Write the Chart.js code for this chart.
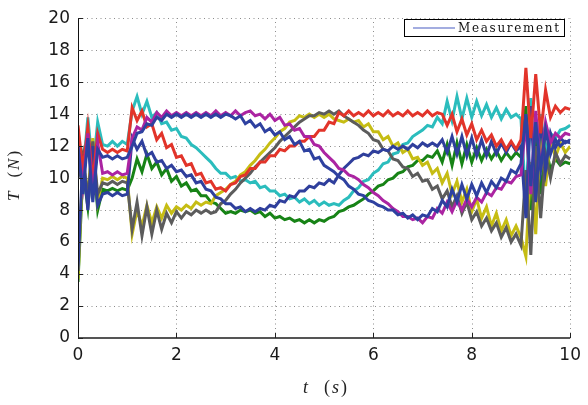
<!DOCTYPE html>
<html>
<head>
<meta charset="utf-8">
<script src="https://cdn.jsdelivr.net/npm/chart.js@4.4.1/dist/chart.umd.min.js"></script>
<style>
  html, body { margin: 0; padding: 0; background: #fff; }
  #wrap { width: 588px; height: 405px; position: relative; }
</style>
</head>
<body>
<div id="wrap"><canvas id="chart" width="588" height="405"></canvas></div>
<script>
// sample step of the traces (s)
const dt = 0.1;

// tension T (N), one value every 0.1 s from t = 0 to t = 10
const redT = [
  13.3, 10.5, 13.2, 9.8, 12.8, 11.8, 11.6, 11.8, 11.6, 11.8,
  11.7, 14.4, 13.6, 14.2, 13.2, 13.4, 12.4, 12.8, 11.9, 12.1,
  11.3, 11.4, 10.8, 10.9, 10.2, 10.3, 9.7, 9.8, 9.3, 9.4,
  9.2, 9.6, 9.7, 10.1, 10.2, 10.6, 10.6, 11.0, 11.0, 11.4,
  11.4, 11.8, 11.7, 12.0, 12.0, 12.3, 12.3, 12.6, 12.6, 13.0,
  13.0, 13.5, 13.4, 14.1, 13.9, 14.2, 13.9, 14.1, 13.9, 14.2,
  13.9, 14.1, 13.9, 14.2, 13.9, 14.1, 13.9, 14.2, 13.9, 14.1,
  13.9, 14.2, 13.9, 14.1, 14.0, 13.3, 14.0, 12.9, 13.7, 12.7,
  13.4, 12.4, 13.0, 12.3, 12.7, 12.0, 12.4, 11.8, 12.3, 11.8,
  12.4, 16.9, 12.5, 16.5, 12.8, 15.5, 13.8, 14.5, 14.1, 14.4,
  14.3
];
const cyanT = [
  13.0, 10.2, 13.8, 10.5, 13.5, 12.1, 12.0, 12.3, 12.0, 12.3,
  12.1, 14.2, 15.1, 14.0, 14.8, 13.8, 14.1, 13.4, 13.5, 13.0,
  13.1, 12.6, 12.5, 12.1, 11.9, 11.6, 11.3, 11.0, 10.6, 10.3,
  10.3, 10.0, 10.1, 9.8, 9.9, 9.7, 9.8, 9.4, 9.5, 9.2,
  9.2, 8.9, 9.0, 8.7, 8.8, 8.5, 8.7, 8.4, 8.6, 8.3,
  8.5, 8.3, 8.4, 8.3, 8.6, 8.8, 9.2, 9.4, 9.8, 9.9,
  10.3, 10.5, 10.9, 11.0, 11.5, 11.6, 12.1, 12.2, 12.6, 12.8,
  13.0, 13.3, 13.2, 13.8, 13.4, 14.8, 13.6, 15.1, 13.7, 15.0,
  13.8, 14.8, 13.9, 14.6, 13.8, 14.4, 13.7, 14.3, 13.8, 14.0,
  13.7, 8.5, 15.0, 9.5, 14.0, 11.5, 12.8, 12.5, 13.0, 13.1,
  13.3
];
const blueAT = [
  12.0, 9.0, 12.5, 8.5, 11.8, 11.3, 11.4, 11.2, 11.4, 11.2,
  11.3, 12.0, 12.8, 12.9, 13.4, 13.3, 13.8, 13.6, 14.0, 13.8,
  14.0, 13.8, 14.0, 13.8, 14.0, 13.8, 14.0, 13.8, 14.0, 13.8,
  14.0, 13.9, 13.7, 13.9, 13.4, 13.6, 13.2, 13.4, 12.9, 13.1,
  12.7, 12.9, 12.4, 12.6, 12.1, 12.3, 11.7, 11.8, 11.2, 11.3,
  10.8, 10.6, 10.4, 10.1, 9.9, 9.5, 9.3, 9.0, 8.9, 8.6,
  8.5, 8.3, 8.2, 8.0, 8.0, 7.7, 7.8, 7.5, 7.7, 7.4,
  7.7, 7.6, 8.1, 7.9, 8.6, 8.2, 9.3, 8.5, 9.6, 8.7,
  9.6, 8.9, 9.7, 9.1, 9.8, 9.4, 10.0, 9.8, 10.5, 10.3,
  10.9, 14.0, 9.5, 13.5, 10.5, 13.0, 11.5, 12.4, 12.0, 12.3,
  12.2
];
const blueBT = [
  4.2, 11.5, 8.0, 12.0, 8.3, 9.0, 9.1, 8.9, 9.1, 8.9,
  9.0, 12.5, 11.8, 12.3, 11.4, 11.6, 11.0, 11.1, 10.6, 10.8,
  10.4, 10.5, 10.1, 10.2, 9.7, 9.8, 9.3, 9.2, 8.8, 8.7,
  8.4, 8.4, 8.1, 8.2, 7.9, 8.1, 7.9, 8.1, 8.0, 8.3,
  8.2, 8.6, 8.5, 8.9, 8.8, 9.2, 9.2, 9.5, 9.4, 9.7,
  9.6, 9.9, 9.7, 10.2, 10.6, 10.9, 11.2, 11.3, 11.5, 11.4,
  11.7, 11.6, 11.8, 11.7, 12.0, 11.8, 12.0, 11.8, 12.1, 11.9,
  12.2, 12.0, 12.2, 12.0, 12.4, 11.6, 12.6, 11.5, 12.6, 11.4,
  12.5, 11.4, 12.4, 11.4, 12.3, 11.5, 12.2, 11.6, 12.2, 11.7,
  12.0, 7.5, 14.5, 8.5, 13.8, 10.5, 12.8, 11.9, 12.5, 12.2,
  12.4
];
const magentaT = [
  12.0, 9.5, 12.8, 9.0, 12.2, 10.3, 10.4, 10.2, 10.4, 10.2,
  10.3, 12.5, 13.2, 13.0, 13.8, 13.5, 14.1, 13.8, 14.2, 13.9,
  14.1, 13.9, 14.1, 13.9, 14.1, 13.9, 14.1, 13.9, 14.2, 13.9,
  14.1, 13.9, 14.2, 13.9, 14.1, 14.2, 13.9, 14.0, 13.7, 14.0,
  13.6, 13.8, 13.3, 13.4, 13.0, 13.1, 12.6, 12.6, 12.1, 12.0,
  11.6, 11.3, 11.0, 10.6, 10.5, 10.2, 10.1, 9.9, 9.6, 9.4,
  9.1, 8.9, 8.6, 8.4, 8.1, 7.9, 7.6, 7.6, 7.4, 7.5,
  7.2, 7.6, 7.5, 8.1, 7.8, 8.5, 7.9, 8.6, 8.0, 8.7,
  8.2, 8.8, 8.5, 9.1, 8.9, 9.4, 9.3, 9.8, 9.7, 10.1,
  10.2, 13.5, 9.0, 14.2, 10.5, 13.5, 12.2, 12.8, 12.5, 12.8,
  12.7
];
const grayT = [
  10.0, 11.5, 8.7, 12.3, 9.0, 9.7, 9.6, 9.8, 9.6, 9.8,
  9.7, 6.8, 8.5, 6.4, 8.2, 6.5, 8.0, 6.8, 7.8, 7.2,
  7.9, 7.5, 7.9, 7.7, 8.0, 7.8, 8.0, 7.8, 7.9, 8.4,
  8.6, 9.0, 9.3, 9.7, 10.0, 10.3, 10.7, 11.0, 11.3, 11.6,
  11.9, 12.3, 12.6, 12.9, 13.2, 13.5, 13.7, 13.9, 13.9, 14.1,
  14.0, 14.2, 14.0, 14.2, 13.9, 13.7, 13.5, 13.3, 13.0, 12.8,
  12.4, 12.3, 11.8, 11.7, 11.2, 11.1, 10.7, 10.6, 10.1, 10.3,
  9.8, 9.9, 9.3, 9.5, 8.7, 9.2, 8.2, 8.9, 7.8, 8.5,
  7.4, 7.9, 7.0, 7.5, 6.7, 7.2, 6.3, 6.9, 6.0, 6.5,
  5.8, 10.5, 5.2, 12.0, 7.5, 11.5, 10.0, 11.6, 10.9, 11.4,
  11.2
];
const yellowT = [
  3.7, 11.0, 9.0, 12.5, 8.5, 10.0, 9.9, 10.1, 9.9, 10.1,
  10.0, 6.5, 8.0, 7.0, 8.3, 7.2, 8.2, 7.5, 8.3, 7.8,
  8.2, 8.0, 8.3, 8.1, 8.5, 8.3, 8.5, 8.4, 8.9, 9.1,
  9.3, 9.6, 9.8, 10.2, 10.4, 10.8, 11.1, 11.5, 11.8, 12.2,
  12.5, 12.9, 13.1, 13.5, 13.6, 13.9, 13.8, 14.0, 13.8, 14.0,
  13.8, 14.0, 13.7, 13.6, 13.5, 13.7, 13.5, 13.6, 13.2, 13.4,
  12.9, 12.9, 12.4, 12.6, 12.0, 12.2, 11.6, 11.8, 11.2, 11.3,
  10.8, 11.0, 10.3, 10.6, 9.7, 10.3, 9.0, 9.8, 8.5, 9.3,
  7.9, 8.7, 7.5, 8.2, 7.0, 7.8, 6.7, 7.4, 6.4, 7.0,
  6.3, 5.1, 11.0, 6.5, 13.0, 9.5, 12.5, 11.3, 12.2, 11.6,
  12.0
];
const greenT = [
  3.5, 10.5, 8.2, 11.8, 8.0, 9.3, 9.2, 9.35, 9.2, 9.35,
  9.25, 10.0, 11.2, 10.4, 11.5, 10.6, 11.0, 10.2, 10.6, 9.8,
  10.1, 9.5, 9.7, 9.2, 9.3, 8.9, 8.9, 8.5, 8.4, 8.1,
  7.8, 7.9, 7.8, 8.0, 7.9, 8.0, 7.8, 7.9, 7.6, 7.8,
  7.5, 7.6, 7.4, 7.5, 7.3, 7.4, 7.2, 7.4, 7.2, 7.4,
  7.3, 7.5, 7.6, 7.9, 8.0, 8.2, 8.3, 8.5, 8.7, 9.0,
  9.2, 9.5, 9.6, 9.9, 10.0, 10.3, 10.4, 10.7, 10.8, 11.1,
  11.1, 11.4, 11.3, 11.7, 11.0, 12.1, 10.8, 12.2, 10.9, 12.1,
  11.0, 11.9, 11.1, 11.8, 11.2, 11.7, 11.1, 11.6, 11.2, 11.6,
  11.3, 14.5, 8.0, 13.0, 9.0, 12.0, 10.5, 11.2, 10.8, 11.0,
  10.9
];

const xTicks = [0, 2, 4, 6, 8, 10];
const yTicks = [0, 2, 4, 6, 8, 10, 12, 14, 16, 18, 20];
const legendText = 'Measurement';

// first dataset ends up on top
const series = [
  { data: blueAT, color: '#2e41a0' },
  { data: magentaT, color: '#ab24a2' },
  { data: redT, color: '#e2342a' },
  { data: blueBT, color: '#2f3f9c' },
  { data: grayT, color: '#5c5c5c' },
  { data: yellowT, color: '#c6bd14' },
  { data: cyanT, color: '#2bbdbd' },
  { data: greenT, color: '#178316' }
];

function toPoints(vals) {
  return vals.map((v, i) => ({ x: Math.round(i * dt * 10) / 10, y: v }));
}

// text pieces [text, italic, gapAfter], centred on 0,0 of the current transform
function drawMath(ctx, parts, size) {
  const fonts = parts.map(p => (p[1] ? 'italic ' : '') + size + 'px "Liberation Serif", serif');
  let w = 0;
  const widths = parts.map((p, i) => {
    ctx.font = fonts[i];
    const m = ctx.measureText(p[0]).width;
    w += m + (i < parts.length - 1 ? p[2] : 0);
    return m;
  });
  let x = -w / 2;
  parts.forEach((p, i) => {
    ctx.font = fonts[i];
    ctx.fillText(p[0], x, 0);
    x += widths[i] + p[2];
  });
}

const decor = {
  id: 'decor',
  beforeDatasetsDraw(chart) {
    const { ctx, chartArea: a, scales: { x, y } } = chart;
    ctx.save();
    ctx.strokeStyle = '#8c8c8c';
    ctx.lineWidth = 1;
    ctx.setLineDash([1, 3.5]);
    ctx.beginPath();
    yTicks.forEach(v => {
      const py = Math.round(y.getPixelForValue(v)) + 0.5;
      ctx.moveTo(a.left, py); ctx.lineTo(a.right, py);
    });
    xTicks.forEach(v => {
      const px = Math.round(x.getPixelForValue(v)) + 0.5;
      ctx.moveTo(px, a.bottom); ctx.lineTo(px, a.top);
    });
    ctx.stroke();
    ctx.restore();
  },
  afterDraw(chart) {
    const { ctx, chartArea: a, scales: { x, y } } = chart;
    ctx.save();
    // axes
    ctx.strokeStyle = '#111';
    ctx.lineWidth = 1;
    ctx.beginPath();
    ctx.moveTo(a.left + 0.5, a.top);
    ctx.lineTo(a.left + 0.5, a.bottom);
    ctx.stroke();
    ctx.strokeStyle = '#555';
    ctx.lineWidth = 2;
    ctx.beginPath();
    ctx.moveTo(a.left, a.bottom);
    ctx.lineTo(a.right, a.bottom);
    ctx.stroke();
    // inner tick marks
    ctx.lineWidth = 1;
    ctx.strokeStyle = '#222';
    ctx.beginPath();
    yTicks.forEach(v => {
      const py = Math.round(y.getPixelForValue(v)) + 0.5;
      ctx.moveTo(a.left, py); ctx.lineTo(a.left + 5, py);
    });
    xTicks.forEach(v => {
      const px = Math.round(x.getPixelForValue(v)) + 0.5;
      ctx.moveTo(px, a.bottom); ctx.lineTo(px, a.bottom - 5);
    });
    ctx.stroke();

    // axis titles
    ctx.fillStyle = '#222';
    ctx.textBaseline = 'middle';
    ctx.textAlign = 'left';
    ctx.save();
    ctx.translate(325, 388);
    drawMath(ctx, [['t', true, 16], ['(', false, 2], ['s', true, 2], [')', false, 0]], 18);
    ctx.restore();
    ctx.save();
    ctx.translate(15, 176);
    ctx.rotate(-Math.PI / 2);
    drawMath(ctx, [['T', true, 14], ['(', false, 2], ['N', true, 2], [')', false, 0]], 17);
    ctx.restore();

    // legend
    const bx = 404.5, by = 19.5, bw = 160, bh = 17;
    ctx.fillStyle = '#fff';
    ctx.fillRect(bx, by, bw, bh);
    ctx.strokeStyle = '#000';
    ctx.lineWidth = 1;
    ctx.strokeRect(bx, by, bw, bh);
    ctx.strokeStyle = '#8592d6';
    ctx.lineWidth = 1.5;
    ctx.beginPath();
    ctx.moveTo(413, 28);
    ctx.lineTo(455, 28);
    ctx.stroke();
    ctx.fillStyle = '#111';
    ctx.font = '12px "DejaVu Serif", serif';
    const tw = ctx.measureText(legendText).width;
    ctx.letterSpacing = Math.max(0, (101 - tw) / (legendText.length - 1)).toFixed(2) + 'px';
    ctx.textBaseline = 'alphabetic';
    ctx.fillText(legendText, 458, 32);
    ctx.restore();
  }
};

const ctx = document.getElementById('chart').getContext('2d');
new Chart(ctx, {
  type: 'line',
  data: {
    datasets: series.map(s => ({
      data: toPoints(s.data),
      borderColor: s.color,
      backgroundColor: s.color,
      borderWidth: 3,
      pointRadius: 0,
      tension: 0,
      fill: false
    }))
  },
  options: {
    responsive: false,
    animation: false,
    events: [],
    layout: { padding: { top: 14, right: 16, left: 0, bottom: 0 } },
    plugins: { legend: { display: false }, tooltip: { enabled: false } },
    scales: {
      x: {
        type: 'linear',
        min: 0, max: 10,
        afterFit: s => { s.height = 67; },
        afterBuildTicks: s => { s.ticks = xTicks.map(v => ({ value: v })); },
        ticks: { padding: 7, color: '#1a1a1a', font: { family: 'DejaVu Sans', size: 17 } },
        grid: { display: false, drawTicks: false },
        border: { display: false }
      },
      y: {
        type: 'linear',
        min: 0, max: 20,
        afterFit: s => { s.width = 78; },
        afterBuildTicks: s => { s.ticks = yTicks.map(v => ({ value: v })); },
        ticks: { padding: 8, color: '#1a1a1a', font: { family: 'DejaVu Sans', size: 17 } },
        grid: { display: false, drawTicks: false },
        border: { display: false }
      }
    }
  },
  plugins: [decor]
});
</script>
</body>
</html>
